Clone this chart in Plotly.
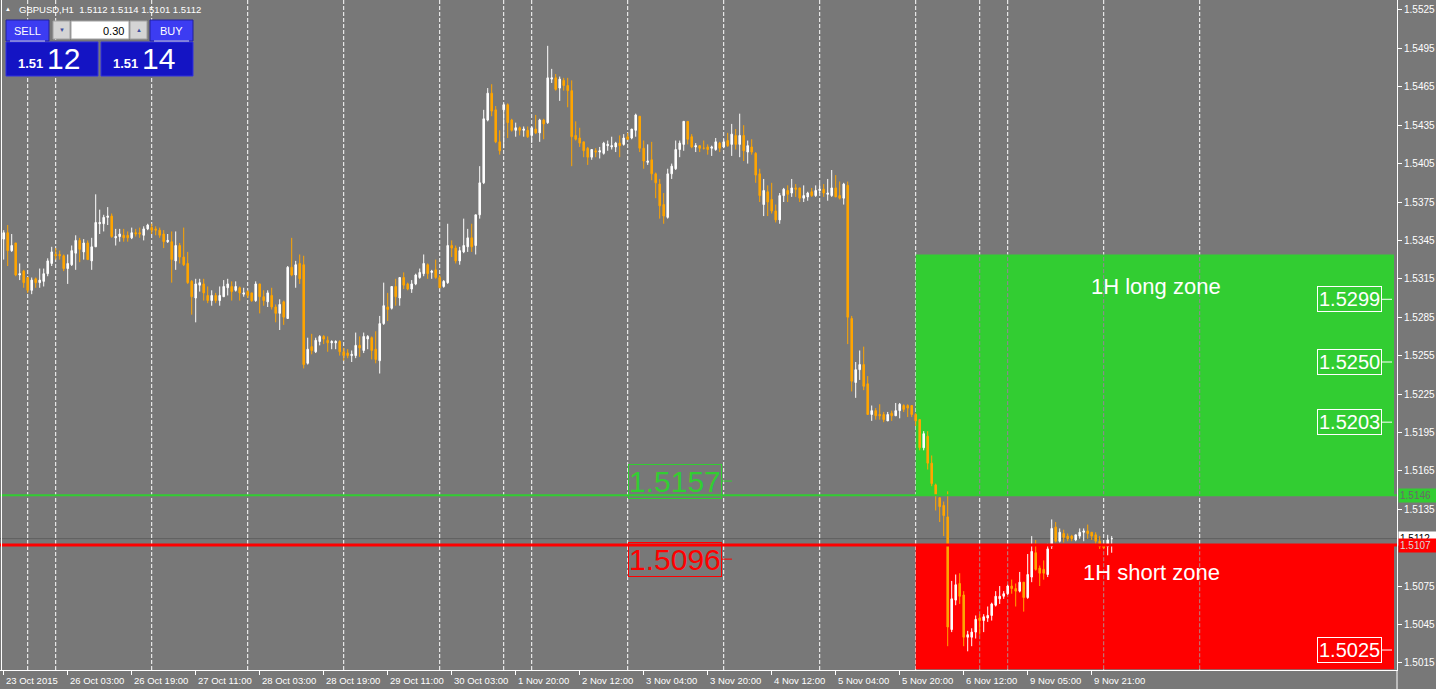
import plotly.graph_objects as go

# ---------------- DATA ----------------
# GBPUSD H1 candles, prices in units of 0.0001
open_pips = [
    15346, 15351, 15337, 15343, 15318, 15321, 15316, 15306, 15315, 15312,
    15313, 15319, 15327, 15334, 15334, 15333, 15323, 15326, 15335, 15345,
    15336, 15343, 15329, 15340, 15358, 15358, 15363, 15364, 15347, 15348,
    15349, 15349, 15347, 15351, 15351, 15349, 15354, 15355, 15354, 15353,
    15350, 15344, 15344, 15329, 15341, 15332, 15327, 15313, 15300, 15310,
    15311, 15302, 15298, 15302, 15298, 15301, 15308, 15309, 15306, 15308,
    15303, 15305, 15304, 15298, 15311, 15301, 15297, 15302, 15293, 15288,
    15297, 15284, 15324, 15318, 15327, 15326, 15249, 15262, 15258, 15266,
    15270, 15267, 15265, 15265, 15266, 15258, 15257, 15255, 15255, 15263,
    15259, 15268, 15269, 15260, 15251, 15280, 15293, 15292, 15309, 15300,
    15316, 15311, 15307, 15311, 15316, 15319, 15326, 15320, 15322, 15316,
    15309, 15312, 15341, 15339, 15329, 15336, 15340, 15347, 15341, 15365,
    15390, 15439, 15460, 15447, 15422, 15447, 15451, 15439, 15431, 15433,
    15431, 15431, 15427, 15432, 15429, 15439, 15437, 15471, 15472, 15464,
    15470, 15466, 15462, 15427, 15425, 15422, 15417, 15410, 15415, 15414,
    15413, 15419, 15418, 15418, 15421, 15420, 15426, 15425, 15431, 15442,
    15417, 15406, 15408, 15397, 15389, 15373, 15363, 15397, 15401, 15416,
    15420, 15438, 15426, 15418, 15419, 15417, 15418, 15417, 15416, 15421,
    15418, 15423, 15420, 15427, 15420, 15427, 15414, 15418, 15413, 15397,
    15373, 15383, 15377, 15368, 15361, 15380, 15384, 15382, 15386, 15386,
    15378, 15379, 15383, 15380, 15384, 15385, 15381, 15380, 15386, 15380,
    15378, 15388, 15284, 15234, 15244, 15248, 15233, 15209, 15212, 15209,
    15209, 15204, 15210, 15208, 15212, 15216, 15216, 15216, 15209, 15205,
    15183, 15192, 15171, 15154, 15144, 15138, 15129, 15041, 15064, 15077,
    15068, 15035, 15035, 15039, 15050, 15048, 15050, 15052, 15060, 15065,
    15067, 15069, 15075, 15073, 15071, 15078, 15066, 15082, 15101, 15089,
    15088, 15084, 15106, 15121, 15110, 15116, 15114, 15114, 15111, 15114,
    15117, 15118, 15117, 15115, 15110, 15107, 15106, 15112,
]
high_pips = [
    15353, 15357, 15350, 15343, 15327, 15322, 15316, 15316, 15316, 15323,
    15323, 15331, 15340, 15339, 15337, 15334, 15334, 15341, 15349, 15347,
    15346, 15345, 15347, 15381, 15369, 15365, 15371, 15366, 15354, 15354,
    15354, 15352, 15355, 15354, 15355, 15356, 15358, 15358, 15356, 15355,
    15353, 15350, 15352, 15352, 15343, 15355, 15336, 15314, 15315, 15315,
    15315, 15309, 15306, 15304, 15309, 15314, 15315, 15313, 15313, 15309,
    15308, 15306, 15304, 15313, 15311, 15306, 15306, 15308, 15295, 15299,
    15298, 15325, 15347, 15329, 15334, 15333, 15269, 15272, 15269, 15271,
    15271, 15270, 15267, 15267, 15267, 15261, 15260, 15259, 15273, 15270,
    15273, 15271, 15270, 15274, 15286, 15312, 15304, 15309, 15315, 15316,
    15320, 15312, 15314, 15319, 15323, 15334, 15327, 15322, 15330, 15318,
    15314, 15358, 15345, 15341, 15340, 15362, 15354, 15358, 15365, 15403,
    15447, 15464, 15467, 15450, 15431, 15452, 15452, 15440, 15437, 15434,
    15434, 15434, 15434, 15443, 15440, 15440, 15497, 15479, 15475, 15473,
    15472, 15472, 15470, 15438, 15433, 15422, 15418, 15416, 15417, 15418,
    15422, 15423, 15426, 15422, 15427, 15428, 15429, 15432, 15444, 15442,
    15423, 15420, 15422, 15398, 15393, 15382, 15401, 15405, 15423, 15423,
    15438, 15438, 15428, 15421, 15419, 15423, 15420, 15419, 15425, 15422,
    15424, 15429, 15436, 15432, 15444, 15435, 15423, 15424, 15414, 15401,
    15393, 15388, 15390, 15373, 15382, 15386, 15388, 15393, 15389, 15386,
    15388, 15383, 15386, 15388, 15389, 15389, 15393, 15400, 15396, 15391,
    15390, 15391, 15286, 15250, 15259, 15262, 15239, 15216, 15214, 15217,
    15211, 15211, 15212, 15218, 15218, 15217, 15217, 15216, 15210, 15205,
    15196, 15196, 15177, 15155, 15144, 15141, 15149, 15079, 15084, 15085,
    15071, 15040, 15042, 15052, 15053, 15053, 15059, 15062, 15071, 15075,
    15071, 15076, 15080, 15077, 15086, 15078, 15100, 15114, 15111, 15091,
    15095, 15108, 15127, 15125, 15120, 15119, 15116, 15115, 15115, 15120,
    15120, 15123, 15117, 15117, 15114, 15108, 15115, 15114,
]
low_pips = [
    15330, 15325, 15336, 15317, 15314, 15308, 15304, 15303, 15308, 15308,
    15309, 15317, 15325, 15330, 15330, 15321, 15311, 15325, 15322, 15328,
    15330, 15330, 15322, 15340, 15350, 15352, 15357, 15347, 15341, 15344,
    15344, 15344, 15346, 15348, 15347, 15345, 15353, 15350, 15349, 15347,
    15339, 15343, 15312, 15322, 15327, 15325, 15311, 15287, 15281, 15305,
    15298, 15296, 15294, 15296, 15294, 15301, 15302, 15298, 15305, 15298,
    15301, 15300, 15297, 15297, 15288, 15294, 15293, 15291, 15281, 15275,
    15279, 15284, 15317, 15308, 15311, 15245, 15248, 15256, 15257, 15263,
    15264, 15258, 15260, 15260, 15255, 15251, 15253, 15250, 15253, 15254,
    15257, 15260, 15252, 15249, 15241, 15279, 15282, 15291, 15294, 15294,
    15307, 15306, 15304, 15310, 15315, 15317, 15315, 15315, 15315, 15308,
    15308, 15311, 15332, 15327, 15326, 15335, 15336, 15336, 15334, 15362,
    15389, 15438, 15442, 15421, 15412, 15417, 15425, 15430, 15426, 15427,
    15426, 15425, 15421, 15428, 15422, 15424, 15436, 15468, 15462, 15454,
    15462, 15449, 15403, 15423, 15418, 15410, 15404, 15408, 15410, 15409,
    15412, 15415, 15416, 15414, 15410, 15419, 15424, 15424, 15426, 15414,
    15401, 15404, 15392, 15378, 15362, 15358, 15362, 15393, 15400, 15410,
    15415, 15420, 15417, 15414, 15414, 15416, 15412, 15411, 15415, 15414,
    15417, 15418, 15411, 15416, 15410, 15407, 15405, 15412, 15390, 15375,
    15364, 15364, 15366, 15359, 15358, 15375, 15375, 15379, 15379, 15375,
    15375, 15376, 15379, 15379, 15382, 15379, 15376, 15379, 15379, 15377,
    15373, 15264, 15227, 15222, 15236, 15228, 15209, 15204, 15205, 15205,
    15203, 15204, 15204, 15208, 15206, 15211, 15207, 15207, 15200, 15181,
    15181, 15166, 15153, 15134, 15125, 15114, 15028, 15039, 15060, 15061,
    15028, 15024, 15028, 15034, 15037, 15039, 15047, 15048, 15059, 15061,
    15065, 15068, 15069, 15059, 15070, 15055, 15065, 15078, 15087, 15075,
    15080, 15082, 15104, 15109, 15109, 15109, 15110, 15110, 15110, 15112,
    15110, 15112, 15111, 15108, 15104, 15104, 15099, 15101,
]
close_pips = [
    15351, 15337, 15341, 15318, 15319, 15312, 15306, 15314, 15312, 15314,
    15319, 15329, 15336, 15333, 15333, 15323, 15327, 15337, 15345, 15338,
    15343, 15330, 15340, 15359, 15359, 15363, 15364, 15348, 15348, 15350,
    15347, 15347, 15351, 15350, 15350, 15354, 15357, 15353, 15353, 15349,
    15344, 15345, 15330, 15341, 15332, 15326, 15312, 15301, 15311, 15312,
    15304, 15298, 15302, 15298, 15302, 15309, 15311, 15305, 15309, 15304,
    15304, 15302, 15298, 15311, 15301, 15298, 15304, 15293, 15288, 15295,
    15285, 15324, 15318, 15326, 15315, 15248, 15260, 15259, 15267, 15270,
    15268, 15265, 15266, 15266, 15258, 15255, 15255, 15256, 15263, 15261,
    15270, 15270, 15259, 15252, 15280, 15294, 15291, 15309, 15301, 15316,
    15310, 15307, 15311, 15318, 15320, 15327, 15319, 15321, 15316, 15308,
    15313, 15341, 15339, 15329, 15337, 15341, 15347, 15340, 15365, 15390,
    15440, 15460, 15446, 15422, 15415, 15451, 15437, 15431, 15433, 15431,
    15432, 15426, 15433, 15429, 15439, 15436, 15472, 15472, 15463, 15471,
    15466, 15462, 15426, 15424, 15421, 15415, 15410, 15416, 15414, 15415,
    15421, 15420, 15419, 15421, 15419, 15425, 15424, 15432, 15443, 15417,
    15407, 15407, 15397, 15390, 15372, 15364, 15397, 15403, 15416, 15421,
    15438, 15424, 15418, 15419, 15417, 15417, 15416, 15418, 15422, 15417,
    15422, 15419, 15428, 15420, 15427, 15415, 15419, 15414, 15396, 15380,
    15384, 15375, 15368, 15361, 15380, 15385, 15381, 15386, 15385, 15378,
    15380, 15382, 15380, 15384, 15385, 15382, 15382, 15386, 15379, 15378,
    15389, 15285, 15235, 15244, 15248, 15231, 15209, 15212, 15208, 15208,
    15205, 15209, 15208, 15212, 15217, 15213, 15214, 15209, 15204, 15183,
    15194, 15171, 15155, 15146, 15137, 15130, 15043, 15065, 15076, 15067,
    15035, 15037, 15039, 15049, 15048, 15051, 15052, 15061, 15067, 15067,
    15069, 15075, 15073, 15071, 15078, 15066, 15084, 15102, 15088, 15085,
    15085, 15104, 15120, 15110, 15117, 15113, 15112, 15112, 15115, 15117,
    15118, 15116, 15114, 15110, 15106, 15105, 15111, 15112,
]

PIP = 10000.0
opens = [v / PIP for v in open_pips]
highs = [v / PIP for v in high_pips]
lows = [v / PIP for v in low_pips]
closes = [v / PIP for v in close_pips]
bars = list(range(len(opens)))

symbol = "GBPUSD,H1"
bid_price = 1.5112
sell_quote = ("1.51", "12")
buy_quote = ("1.51", "14")
lot_size = "0.30"

tick_labels = [
    "23 Oct 2015", "26 Oct 03:00", "26 Oct 19:00", "27 Oct 11:00", "28 Oct 03:00",
    "28 Oct 19:00", "29 Oct 11:00", "30 Oct 03:00", "1 Nov 20:00", "2 Nov 12:00",
    "3 Nov 04:00", "3 Nov 20:00", "4 Nov 12:00", "5 Nov 04:00", "5 Nov 20:00",
    "6 Nov 12:00", "9 Nov 05:00", "9 Nov 21:00",
]
BARS_PER_LABEL = 16
tick_bars = [k * BARS_PER_LABEL for k in range(len(tick_labels))]

# session / day separators (bar index)
separator_bars = [6, 13, 37, 61, 85, 109, 125, 132, 156, 180, 204, 228, 244, 251, 275, 299]

price_ticks = [1.5015, 1.5045, 1.5075, 1.5135, 1.5165, 1.5195, 1.5225, 1.5255,
               1.5285, 1.5315, 1.5345, 1.5375, 1.5405, 1.5435, 1.5465, 1.5495, 1.5525]

long_level = 1.5146
short_level = 1.5107
long_zone_top = 1.5334
short_zone_bottom = 1.5010
zone_start_bar = 228
long_entry = 1.5157
short_entry = 1.5096
long_targets = [1.5299, 1.5250, 1.5203]
short_targets = [1.5025]

# ---------------- LAYOUT CONSTANTS ----------------
W, H = 1436, 689
PW, PH = 1397, 670
BG = "#787878"
ORANGE = "#FFA500"
GREEN = "#32CD32"
RED = "#FF0000"
FONT = "Liberation Sans, Arial, sans-serif"
X_RANGE = [-0.925, 348.325]
Y_RANGE = [1.50094, 1.55328]
ZONE_END = X_RANGE[0] + 1394 / 4.0


def PX(x):
    return x / PW


def PY(y):
    return 1 - y / PH


fig = go.Figure(go.Candlestick(
    x=bars, open=opens, high=highs, low=lows, close=closes,
    increasing=dict(line=dict(color="white", width=1), fillcolor="white"),
    decreasing=dict(line=dict(color=ORANGE, width=1), fillcolor=ORANGE),
    whiskerwidth=0, hoverinfo="skip",
))

shapes = []
annotations = []

# separators (white dashed)
for b in separator_bars:
    shapes.append(dict(type="line", xref="x", yref="paper", x0=b, x1=b, y0=0, y1=1,
                       layer="below", line=dict(color="white", width=1, dash="4px,2px")))

# zones
shapes.append(dict(type="rect", xref="x", yref="y", x0=zone_start_bar, x1=ZONE_END,
                   y0=long_level, y1=long_zone_top, fillcolor=GREEN, line=dict(width=0), layer="below"))
shapes.append(dict(type="rect", xref="x", yref="y", x0=zone_start_bar, x1=ZONE_END,
                   y0=short_zone_bottom, y1=short_level, fillcolor=RED, line=dict(width=0), layer="below"))
for b in separator_bars:
    if b > zone_start_bar:
        shapes.append(dict(type="line", xref="x", yref="y", x0=b, x1=b, y0=long_level, y1=long_zone_top,
                           layer="below", line=dict(color="#9c7f9c", width=1, dash="4px,2px")))
        shapes.append(dict(type="line", xref="x", yref="y", x0=b, x1=b, y0=short_zone_bottom, y1=short_level,
                           layer="below", line=dict(color="#b48787", width=1, dash="4px,2px")))

# bid line
shapes.append(dict(type="line", xref="paper", yref="y", x0=0, x1=1, y0=bid_price, y1=bid_price,
                   layer="below", line=dict(color="#5e5e5e", width=1)))
# level lines
shapes.append(dict(type="line", xref="paper", yref="y", x0=0, x1=1, y0=long_level, y1=long_level,
                   layer="above", line=dict(color=GREEN, width=2)))
shapes.append(dict(type="line", xref="paper", yref="y", x0=0, x1=1, y0=short_level, y1=short_level,
                   layer="above", line=dict(color=RED, width=3)))

# left border and right axis extension
shapes.append(dict(type="line", xref="paper", yref="paper", x0=PX(1.5), x1=PX(1.5), y0=0, y1=1,
                   line=dict(color="white", width=1)))
shapes.append(dict(type="line", xref="paper", yref="paper", x0=1, x1=1, y0=PY(689), y1=0,
                   line=dict(color="white", width=1)))

# target labels
for v in long_targets + short_targets:
    annotations.append(dict(xref="paper", yref="y", x=PX(1382), y=v, xanchor="right", yanchor="middle",
                            text=f"{v:.4f}", showarrow=False, bordercolor="white", borderwidth=1,
                            borderpad=1, font=dict(family=FONT, size=20, color="white")))
    shapes.append(dict(type="line", xref="paper", yref="y", x0=PX(1382), x1=PX(1392), y0=v, y1=v,
                       line=dict(color="white", width=1)))

# entry labels
for v, col in [(long_entry, GREEN), (short_entry, RED)]:
    annotations.append(dict(xref="paper", yref="y", x=PX(722), y=v, xanchor="right", yanchor="middle",
                            text=f"{v:.4f}", showarrow=False, bordercolor=col, borderwidth=1,
                            borderpad=0, font=dict(family=FONT, size=30, color=col)))
    shapes.append(dict(type="line", xref="paper", yref="y", x0=PX(722), x1=PX(732), y0=v, y1=v,
                       line=dict(color=col, width=1)))

# zone titles
annotations.append(dict(xref="paper", yref="paper", x=PX(1156), y=PY(287), xanchor="center",
                        yanchor="middle", text="1H long zone",
                        showarrow=False, font=dict(family=FONT, size=22, color="white")))
annotations.append(dict(xref="paper", yref="paper", x=PX(1151), y=PY(572), xanchor="center",
                        yanchor="middle", text="1H short zone",
                        showarrow=False, font=dict(family=FONT, size=22, color="white")))

# axis price labels
for v, bg, fg in [(long_level, GREEN, "#6a6a6a"), (bid_price, "white", "black"), (short_level, RED, "#d8d8d8")]:
    annotations.append(dict(xref="paper", yref="y", x=PX(1398), y=v, xanchor="left", yanchor="middle",
                            text=f"{v:.4f}", showarrow=False, bgcolor=bg, borderpad=1, width=36,
                            align="left", font=dict(family=FONT, size=10, color=fg)))

# x-axis labels
for b, lab in zip(tick_bars, tick_labels):
    annotations.append(dict(xref="x", yref="paper", x=b, y=PY(680), xanchor="left", yanchor="middle",
                            text=lab, showarrow=False, font=dict(family=FONT, size=9.5, color="white")))


# ---- one-click trading panel ----
def rect(x0, y0, x1, y1, fill, line="#20209a"):
    shapes.append(dict(type="rect", xref="paper", yref="paper", x0=PX(x0), x1=PX(x1),
                       y0=PY(y1), y1=PY(y0), fillcolor=fill, line=dict(color=line, width=1)))


def text(x, y, s, size, color="white", anchor="center", bold=False):
    annotations.append(dict(xref="paper", yref="paper", x=PX(x), y=PY(y), xanchor=anchor,
                            yanchor="middle", text=f"<b>{s}</b>" if bold else s, showarrow=False,
                            font=dict(family=FONT, size=size, color=color)))


rect(6, 20, 49, 41, "#3c3cf2")
rect(150, 20, 193, 41, "#3c3cf2")
rect(6, 42, 98, 76, "#1414c4", line="#3030e0")
rect(101, 42, 193, 76, "#1414c4", line="#3030e0")
rect(53, 21, 70, 39, "#d4d4d4", line="#a0a0a0")
rect(71, 21, 129, 39, "white", line="#a0a0a0")
rect(130, 21, 147, 39, "#d4d4d4", line="#a0a0a0")
for x0, x1 in [(10, 45), (154, 189)]:
    shapes.append(dict(type="line", xref="paper", yref="paper", x0=PX(x0), x1=PX(x1), y0=PY(41), y1=PY(41),
                       line=dict(color="#c8c8ff", width=1)))
text(27.5, 30.5, "SELL", 11)
text(171.5, 30.5, "BUY", 11)
text(61.5, 30, "▼", 6, color="#4050a0")
text(138.5, 30, "▲", 6, color="#4050a0")
text(126, 30.5, lot_size, 11, color="black", anchor="right")
text(31, 64, sell_quote[0], 13, bold=True)
text(63, 59, sell_quote[1], 30)
text(125, 64, buy_quote[0], 13, bold=True)
text(158, 59, buy_quote[1], 30)

# header
text(8, 9, "▲", 6)
header = f"{symbol}  {opens[-1]:.4f} {highs[-1]:.4f} {lows[-1]:.4f} {closes[-1]:.4f}"
text(17, 9.5, header, 9.5, anchor="left")

fig.update_layout(
    width=W, height=H, autosize=False,
    margin=dict(l=0, r=W - PW, t=0, b=H - PH, pad=0),
    paper_bgcolor=BG, plot_bgcolor=BG,
    showlegend=False, boxgap=0.45,
    shapes=shapes, annotations=annotations,
    xaxis=dict(range=X_RANGE, rangeslider=dict(visible=False), showgrid=False, zeroline=False,
               tickvals=tick_bars, ticks="outside", ticklen=4, tickcolor="white",
               showticklabels=False, showline=True, linecolor="white", linewidth=1,
               fixedrange=True, automargin=False),
    yaxis=dict(range=Y_RANGE, side="right", showgrid=False, zeroline=False,
               tickvals=price_ticks, ticktext=[f"{v:.4f}" for v in price_ticks],
               ticks="outside", ticklen=4, tickcolor="white",
               tickfont=dict(family=FONT, size=10, color="white"),
               showline=True, linecolor="white", linewidth=1, fixedrange=True, automargin=False),
)

fig.write_html(
    "out.html",
    config={"displayModeBar": False},
    post_script="document.body.style.margin='0';document.body.style.background='#787878';",
)
